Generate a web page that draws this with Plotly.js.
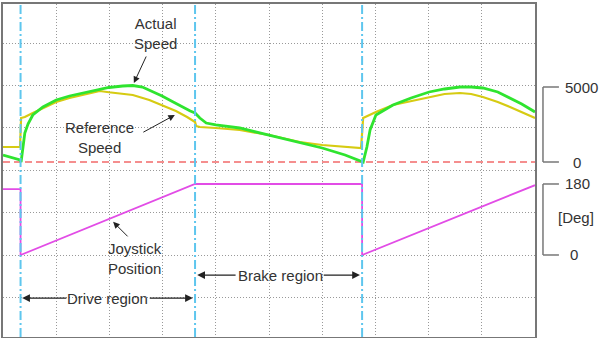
<!DOCTYPE html>
<html>
<head>
<meta charset="utf-8">
<script src="https://cdn.plot.ly/plotly-3.0.1.min.js"></script>
<style>html,body{margin:0;padding:0;background:#fff;}#chart{width:599px;height:338px;}</style>
</head>
<body>
<div id="chart"></div>
<script>
// time axis in scope divisions (0..10)
const timeActual = [0,0.13,0.32,0.34,0.37,0.41,0.47,0.56,0.75,1.00,1.25,1.50,1.75,1.99,2.25,2.44,2.62,2.80,2.99,3.20,3.40,3.52,3.61,3.70,3.82,4.00,4.45,5.00,5.58,6.00,6.43,6.75,6.77,6.84,6.90,7.01,7.33,7.67,8.01,8.30,8.59,8.80,9.02,9.30,9.53,9.75,10.0];
const actualSpeed = [467,333,133,0,1000,1933,2533,3133,3667,4133,4400,4600,4800,4967,5067,5100,5000,4733,4400,4000,3600,3400,3267,2933,2600,2467,2267,1800,1333,933,467,0,0,1000,2133,3133,3800,4267,4667,4867,5000,5000,4933,4667,4267,3867,3333];

const timeRef = [0,0.32,0.34,0.41,0.56,0.75,1.00,1.25,1.50,1.82,1.99,2.25,2.44,2.75,2.99,3.25,3.46,3.61,3.63,3.70,4.00,4.45,5.00,5.58,6.00,6.43,6.73,6.77,7.01,7.33,7.67,8.01,8.30,8.59,8.80,9.02,9.30,9.53,9.75,10.0];
const refSpeed = [1000,1000,2933,3000,3267,3600,4000,4267,4467,4733,4650,4550,4467,4133,3800,3400,3000,2667,2400,2333,2267,2133,1800,1333,1133,1000,933,2933,3333,3800,4067,4333,4533,4600,4533,4333,4000,3667,3333,2933];

const timeJoy = [0,0.33,0.33,3.61,6.75,6.75,10.0];
const joyDeg = [167,167,0,180,180,0,177];

const eventTimes = [0.33,3.61,6.75];
const speedScale = [0,5000];
const degScale = [0,180];

const font = 'Liberation Sans, Arial, sans-serif';
const txt = '#333';

const traces = [
  {x: timeRef, y: refSpeed, yaxis: 'y', mode: 'lines', line: {color: '#d6cb12', width: 2.2}, hoverinfo: 'skip'},
  {x: timeActual, y: actualSpeed, yaxis: 'y', mode: 'lines', line: {color: '#2fe42f', width: 2.8}, hoverinfo: 'skip'},
  {x: timeJoy, y: joyDeg, yaxis: 'y2', mode: 'lines', line: {color: '#e24ce6', width: 1.8}, hoverinfo: 'skip'}
];

const shapes = [];
shapes.push({type: 'line', xref: 'paper', x0: 0, x1: 1, yref: 'y', y0: 0, y1: 0,
  line: {color: '#f26a6a', width: 1.5, dash: '7px,4px'}, layer: 'below'});
eventTimes.forEach(t => shapes.push({type: 'line', xref: 'x', x0: t, x1: t, yref: 'paper', y0: 0, y1: 1,
  line: {color: '#5ec6ee', width: 2, dash: '9px,3px,2px,3px'}, layer: 'above'}));
function bracket(yref, lo, hi) {
  const c = {color: '#777', width: 1.5};
  shapes.push({type: 'line', xref: 'paper', x0: 1.015, x1: 1.015, yref: yref, y0: lo, y1: hi, line: c});
  shapes.push({type: 'line', xref: 'paper', x0: 1.015, x1: 1.045, yref: yref, y0: lo, y1: lo, line: c});
  shapes.push({type: 'line', xref: 'paper', x0: 1.015, x1: 1.045, yref: yref, y0: hi, y1: hi, line: c});
}
bracket('y', speedScale[0], speedScale[1]);
bracket('y2', degScale[0], degScale[1]);

const af = {family: font, size: 15, color: txt};
function label(text, xref, yref, x, y) {
  return {text: text, xref: xref, yref: yref, x: x, y: y, xanchor: 'center', yanchor: 'middle', showarrow: false, font: af};
}
function arrow(yref, x, y, ax, ay) {
  return {text: '', xref: 'x', yref: yref, x: x, y: y, ax: ax, ay: ay, showarrow: true, arrowhead: 2, arrowsize: 1.3, arrowwidth: 1, arrowcolor: '#222'};
}
function span(x, y, ax) {
  return {text: '', xref: 'x', yref: 'paper', x: x, y: y, axref: 'x', ayref: 'paper', ax: ax, ay: y, showarrow: true, arrowhead: 2, arrowsize: 1.3, arrowwidth: 1.2, arrowcolor: '#222'};
}
const annotations = [
  label('Actual<br>Speed', 'x', 'paper', 2.86, 0.910),
  label('Reference<br>Speed', 'x', 'paper', 1.82, 0.599),
  label('Joystick<br>Position', 'x', 'paper', 2.48, 0.236),
  label('Drive region', 'x', 'paper', 1.97, 0.117),
  label('Brake region', 'x', 'paper', 5.21, 0.186),
  arrow('y', 2.46, 5267, 13, -28),
  arrow('y', 3.23, 3133, -33, 18),
  arrow('y2', 2.07, 84, 16, 16),
  span(0.36, 0.117, 1.22),
  span(3.57, 0.117, 2.73),
  span(3.65, 0.186, 4.40),
  span(6.71, 0.186, 6.00),
  label(String(speedScale[1]), 'paper', 'y', 1.088, speedScale[1]),
  label(String(speedScale[0]), 'paper', 'y', 1.079, speedScale[0]),
  label(String(degScale[1]), 'paper', 'y2', 1.079, degScale[1]),
  label('[Deg]', 'paper', 'y2', 1.077, 96),
  label(String(degScale[0]), 'paper', 'y2', 1.073, degScale[0])
];

const layout = {
  width: 599, height: 338,
  margin: {l: 3, r: 64, t: 4, b: 1, pad: 0},
  paper_bgcolor: '#fff', plot_bgcolor: '#fff',
  showlegend: false,
  font: {family: font},
  xaxis: {range: [0, 10], tick0: 0, dtick: 1, showgrid: true, griddash: '1px,2px', gridcolor: '#999', gridwidth: 1,
    showticklabels: false, ticks: '', zeroline: false, showline: true, mirror: true, linecolor: '#777', linewidth: 2, fixedrange: true},
  yaxis: {range: [-11667, 10533], tick0: 5100, dtick: 2833.3, showgrid: true, griddash: '1px,2px', gridcolor: '#999', gridwidth: 1,
    showticklabels: false, ticks: '', zeroline: false, showline: true, mirror: true, linecolor: '#777', linewidth: 2, fixedrange: true},
  yaxis2: {overlaying: 'y', range: [-207.9, 636.3], showgrid: false, showticklabels: false, ticks: '', zeroline: false, showline: false, fixedrange: true},
  shapes: shapes,
  annotations: annotations
};

Plotly.newPlot('chart', traces, layout, {staticPlot: true, displayModeBar: false});
</script>
</body>
</html>
